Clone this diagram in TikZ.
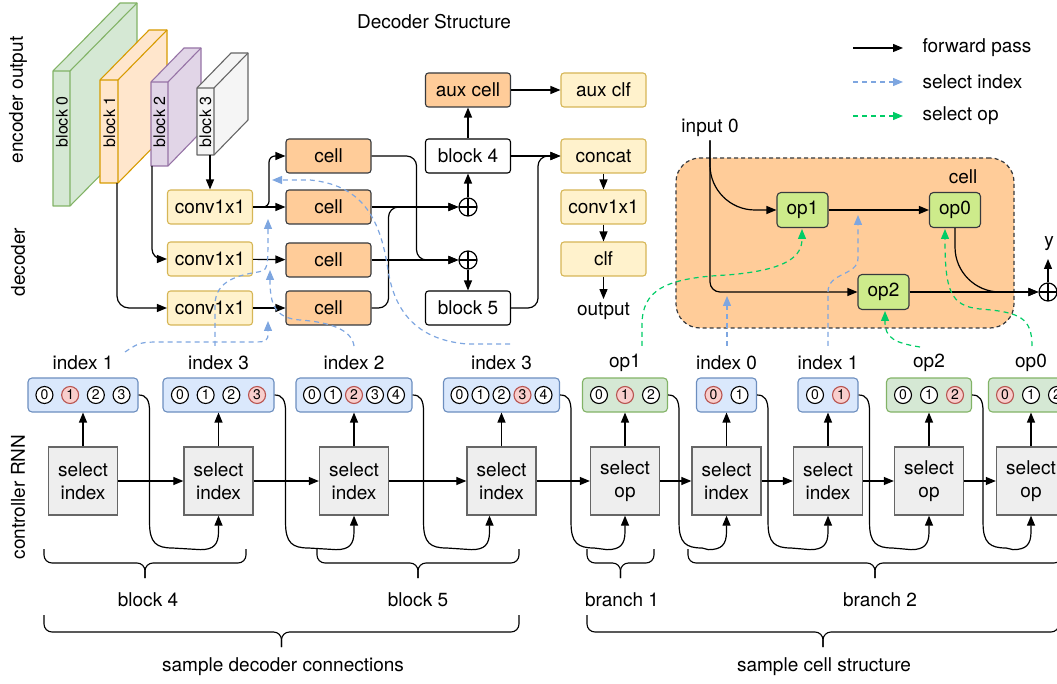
\documentclass[tikz,border=0pt]{standalone}
\usepackage{fontspec}
\setmainfont{TeX Gyre Heros}
\usetikzlibrary{arrows.meta,calc}
\definecolor{ylwF}{HTML}{FFF2CC}
\definecolor{ylwD}{HTML}{D6B656}
\definecolor{orgF}{HTML}{FFCC99}
\definecolor{drk}{HTML}{36393D}
\definecolor{bluF}{HTML}{DAE8FC}
\definecolor{bluD}{HTML}{6C8EBF}
\definecolor{grnF}{HTML}{D5E8D4}
\definecolor{grnD}{HTML}{82B366}
\definecolor{redF}{HTML}{F8CECC}
\definecolor{redD}{HTML}{B85450}
\definecolor{selF}{HTML}{EEEEEE}
\definecolor{selD}{HTML}{666666}
\definecolor{opF}{HTML}{CDEB8B}
\definecolor{blueL}{HTML}{7EA6E0}
\definecolor{greenL}{HTML}{00CC66}
\definecolor{bOneF}{HTML}{FFE6CC}
\definecolor{bOneD}{HTML}{D79B00}
\definecolor{bTwoF}{HTML}{E1D5E7}
\definecolor{bTwoD}{HTML}{9673A6}
\definecolor{bThrF}{HTML}{F5F5F5}

% 3-D slab: front face (x1,y1)-(x2,y2), depth (dx,dy), fill, stroke
\newcommand\slab[8]{%
  \filldraw[fill=#7,draw=#8,line width=1.1pt,line join=round]
    (#1,#2) -- ({#1+#5},{#2-#6}) -- ({#3+#5},{#2-#6}) -- ({#3+#5},{#4-#6})
    -- (#3,#4) -- (#1,#4) -- cycle;
  \draw[draw=#8,line width=1.1pt,line join=round]
    (#1,#2) -- (#3,#2) -- (#3,#4) (#3,#2) -- ({#3+#5},{#2-#6});}

% row of circled choices inside a box, one of them highlighted
\newcommand\digrow[4]{%
  \foreach \k in {0,...,#2}{%
    \pgfmathsetmacro\dgoff{(\k-#2/2)*#3}%
    \ifnum\k=#4\relax
      \node[dsel] (#1-\k) at ($(#1.center)+(\dgoff,0)$) {\k};%
    \else
      \node[dig] (#1-\k) at ($(#1.center)+(\dgoff,0)$) {\k};%
    \fi}}

% recurrent link: from a choice box down and round into the next step
% #1 source box, #2 horizontal offset of the entry point, #3 next step
\newcommand\rnnlink[3]{%
  \draw[fw] (#1.east) .. controls ($(#1.east)+(8,0)$) and ($(#1.east)+(11,5)$)
    .. ($(#1.east)+(11,17)$) -- ($(#1.east)+(11,128)$)
    .. controls ($(#1.east)+(11,148)$) and ($(#1.east)+(18,153)$)
    .. ($(#1.east)+(34,153)$) -- ($(#3.south)+(#2-18,34)$)
    .. controls ($(#3.south)+(#2-5,34)$) and ($(#3.south)+(#2,29)$)
    .. ($(#3.south)+(#2,16)$) -- ($(#3.south)+(#2,0)$);}

% curly brace opening upwards: x1, x2, top, middle, tip
\newcommand\brce[5]{%
  \pgfmathsetmacro\bxm{(#1+#2)/2}%
  \draw[brc] (#1,#3) |- (\bxm,#4) -- (\bxm,#5);
  \draw[brc] (#2,#3) |- (\bxm,#4) -- (\bxm,#5);}

\begin{document}
\begin{tikzpicture}[x=1pt,y=-1pt,
  font=\fontsize{19}{23}\selectfont,
  fw/.style={line width=1.2pt,-{Triangle[length=10pt,width=8pt]}},
  bl/.style={line width=1.2pt,draw=blueL,dash pattern=on 5pt off 4pt,
             -{Triangle[length=10pt,width=8pt]}},
  gr/.style={line width=1.2pt,draw=greenL,dash pattern=on 5pt off 4pt,
             -{Triangle[length=10pt,width=8pt]}},
  bx/.style={draw,rounded corners=3pt,minimum width=85pt,minimum height=34pt,
             inner sep=0pt,line width=1.1pt},
  yb/.style={bx,fill=ylwF,draw=ylwD},
  ob/.style={bx,fill=orgF,draw=drk},
  wb/.style={bx,fill=white,draw=black},
  sb/.style={draw=selD,fill=selF,line width=1.3pt,minimum width=69pt,
             minimum height=68pt,inner sep=0pt,align=center},
  ib/.style={draw=bluD,fill=bluF,rounded corners=4pt,minimum height=34pt,
             line width=1.1pt,inner sep=0pt},
  gb/.style={draw=grnD,fill=grnF,rounded corners=4pt,minimum height=34pt,
             line width=1.1pt,inner sep=0pt,minimum width=85pt},
  dig/.style={circle,draw=black,line width=1.1pt,fill=white,minimum size=17pt,
              inner sep=0pt,font=\fontsize{14}{14}\selectfont},
  dsel/.style={dig,fill=redF,draw=redD},
  opg/.style={draw=drk,fill=opF,rounded corners=4pt,minimum width=51pt,
              minimum height=35pt,inner sep=0pt,line width=1.1pt},
  oplus/.style={circle,draw,line width=1.2pt,minimum size=18pt,inner sep=0pt,
    path picture={\draw[line width=1.2pt]
      (path picture bounding box.north) -- (path picture bounding box.south)
      (path picture bounding box.west) -- (path picture bounding box.east);}},
  brc/.style={line width=1.1pt,rounded corners=8pt},
  vlab/.style={rotate=90}]

\useasboundingbox (0,0) rectangle (1057,684);

% ---------- titles and side labels ----------
\node (title) at (434,22) {Decoder Structure};
\node[vlab] (encl) at (18,100) {encoder output};
\node[vlab] (decl) at (18,262) {decoder};
\node[vlab] (ctrl) at (18,497) {controller RNN};

% ---------- encoder outputs ----------
\slab{53}{71}{70}{206}{67}{68}{grnF}{grnD}
\slab{100}{80}{118}{183}{49}{50}{bOneF}{bOneD}
\slab{151}{82}{168}{166}{33}{34}{bTwoF}{bTwoD}
\slab{197}{88}{214}{155}{34}{35}{bThrF}{selD}
\begin{scope}[font=\fontsize{16}{16}\selectfont]
  \node[vlab] (enc0) at (62,122) {block 0};
  \node[vlab] (enc1) at (109.5,122) {block 1};
  \node[vlab] (enc2) at (159.5,122) {block 2};
  \node[vlab] (enc3) at (205.5,122) {block 3};
\end{scope}
\coordinate (e3o) at (210,155);
\coordinate (e2o) at (152,166);
\coordinate (e1o) at (117,183);

% ---------- decoder ----------
\node[yb] (cv1) at (210,207) {conv1x1};
\node[yb] (cv2) at (210,259) {conv1x1};
\node[yb] (cv3) at (210,308) {conv1x1};
\node[ob] (c1) at (328.5,156) {cell};
\node[ob] (c2) at (328.5,207) {cell};
\node[ob] (c3) at (328.5,260) {cell};
\node[ob] (c4) at (328.5,308) {cell};
\node[oplus] (p1) at (468,207) {};
\node[oplus] (p2) at (468,260) {};
\node[wb] (b4) at (468,156) {block 4};
\node[wb] (b5) at (468,308) {block 5};
\node[ob] (aux) at (468,90) {aux cell};
\node[yb] (auxclf) at (603.5,90) {aux clf};
\node[yb] (concat) at (603.5,156) {concat};
\node[yb] (cv4) at (603.5,207) {conv1x1};
\node[yb] (clf) at (603.5,259) {clf};
\node (out) at (603.5,311) {output};

\draw[fw] (e3o) -- (cv1.north);
\draw[fw,rounded corners=10pt] (e2o) |- (cv2.west);
\draw[fw,rounded corners=12pt] (e1o) |- (cv3.west);
\draw[fw] (cv1) -- (c2);
\draw[fw,rounded corners=6pt] (cv1.east) -- ++(16,0) |- (c1.west);
\draw[fw] (cv2) -- (c3);
\draw[fw] (cv3) -- (c4);
\draw[fw,rounded corners=10pt] (c1.east) -- ++(45,0) |- (p2.west);
\draw[fw] (c2.east) -- (p1.west);
\draw[fw] (c3.east) -- (p2.west);
\draw[fw,rounded corners=10pt] (c4.east) -- ++(17,0) |- (p1.west);
\draw[fw] (p1) -- (b4);
\draw[fw] (p2) -- (b5);
\draw[fw] (b4) -- (aux);
\draw[fw] (aux) -- (auxclf);
\draw[fw] (b4) -- (concat);
\draw[fw,rounded corners=10pt] (b5.east) -- ++(27,0) |- (concat.west);
\draw[fw] (concat) -- (cv4);
\draw[fw] (cv4) -- (clf);
\draw[fw] (clf) -- (out);

% ---------- legend ----------
\coordinate (lgA1) at (853,48);  \coordinate (lgA2) at (903,48);
\coordinate (lgB1) at (853,82);  \coordinate (lgB2) at (903,82);
\coordinate (lgC1) at (853,116); \coordinate (lgC2) at (903,116);
\draw[fw] (lgA1) -- (lgA2);
\draw[bl] (lgB1) -- (lgB2);
\draw[gr] (lgC1) -- (lgC2);
\node[anchor=west] (lgA) at (919,48) {forward pass};
\node[anchor=west] (lgB) at (919,82) {select index};
\node[anchor=west] (lgC) at (919,116) {select op};

% ---------- cell structure ----------
\node[draw=drk,fill=orgF,dash pattern=on 4pt off 3pt,line width=1.2pt,
      rounded corners=24pt,minimum width=338pt,minimum height=170pt]
      (cellarea) at (845,243) {};
\node (celll) at (963,177) {cell};
\node[opg] (o1) at (802.5,210) {op1};
\node[opg] (o0) at (955,210) {op0};
\node[opg] (o2) at (883.5,292) {op2};
\node (in0) at (710,128) {input 0};
\node[oplus] (pc) at (1048,292) {};
\node (yl) at (1049,244) {y};
\coordinate (ytip) at (1048,259);

\draw[fw,rounded corners=45pt] (in0.south) |- (o1.west);
\draw[fw,rounded corners=10pt] (in0.south) |- (o2.west);
\draw[fw] (o1) -- (o0);
\draw[fw] (o2.east) -- (pc.west);
\draw[fw,rounded corners=45pt] (o0.south) |- (pc.west);
\draw[fw] (pc.north) -- (ytip);

% ---------- controller RNN ----------
\node[sb] (s1) at (83,481) {select\\index};
\node[sb] (s2) at (218.5,481) {select\\index};
\node[sb] (s3) at (354,481) {select\\index};
\node[sb] (s4) at (501.5,481) {select\\index};
\node[sb] (s5) at (625,481) {select\\op};
\node[sb] (s6) at (726.5,481) {select\\index};
\node[sb] (s7) at (828,481) {select\\index};
\node[sb] (s8) at (929,481) {select\\op};
\node[sb] (s9) at (1031,481) {select\\op};

\node[ib,minimum width=110pt] (i1) at (83,395) {};
\node[ib,minimum width=111pt] (i2) at (218.5,395) {};
\node[ib,minimum width=116pt] (i3) at (354,395) {};
\node[ib,minimum width=116pt] (i4) at (501.5,395) {};
\node[gb] (i5) at (625,395) {};
\node[ib,minimum width=60pt] (i6) at (726.5,395) {};
\node[ib,minimum width=60pt] (i7) at (828,395) {};
\node[gb] (i8) at (929,395) {};
\node[gb] (i9) at (1031,395) {};

\digrow{i1}{3}{25.7}{1}
\digrow{i2}{3}{25.7}{3}
\digrow{i3}{4}{21}{2}
\digrow{i4}{4}{21}{3}
\digrow{i5}{2}{26}{1}
\digrow{i6}{1}{26}{0}
\digrow{i7}{1}{26}{1}
\digrow{i8}{2}{26}{2}
\digrow{i9}{2}{26}{0}

\node (l1) at (83,363) {index 1};
\node (l2) at (218.5,363) {index 3};
\node (l3) at (354,363) {index 2};
\node (l4) at (501.5,363) {index 3};
\node (l5) at (625,363) {op1};
\node (l6) at (726.5,363) {index 0};
\node (l7) at (828,363) {index 1};
\node (l8) at (929,363) {op2};
\node (l9) at (1031,363) {op0};

\foreach \a in {1,...,9}{\draw[fw] (s\a) -- (i\a);}
\foreach \a/\b in {1/2,2/3,3/4,4/5,5/6,6/7,7/8,8/9}{\draw[fw] (s\a) -- (s\b);}
\foreach \a/\b in {1/2,2/3,4/5,5/6,6/7,7/8,8/9}{\rnnlink{i\a}{0}{s\b}}
\rnnlink{i3}{-12}{s4}

% ---------- sampling links ----------
\coordinate (da1) at (125,352);
\coordinate (ta1) at (268,321);
\draw[bl] (da1) .. controls (140,342) .. (165,342) -- (250,342)
          .. controls (268,342) .. (ta1);
\coordinate (da2) at (215,346);
\coordinate (ta2) at (268,219);
\draw[bl] (da2) -- (215,305) .. controls (215,280) and (240,275) .. (258,272)
          .. controls (268,270) .. (ta2);
\coordinate (da3) at (354,346);
\coordinate (ta3) at (270,270);
\draw[bl] (da3) .. controls (352,330) and (330,322) .. (300,320)
          .. controls (275,318) and (270,305) .. (ta3);
\coordinate (da4) at (510,344);
\coordinate (ta4) at (272,180);
\draw[bl] (da4) -- (467,344) .. controls (420,340) and (395,315) .. (388,270)
          .. controls (380,215) and (360,185) .. (310,180) -- (ta4);
\coordinate (da6) at (727,346);
\coordinate (ta6) at (727,296);
\draw[bl] (da6) -- (ta6);
\coordinate (da7) at (828,346);
\coordinate (ta7) at (858,215);
\draw[bl] (da7) -- (828,292) .. controls (828,272) and (858,276) .. (858,258) -- (ta7);
\coordinate (dg5) at (642,346);
\coordinate (tg5) at (802,229);
\draw[gr] (dg5) -- (642,325) .. controls (642,290) and (665,278) .. (727,275)
          .. controls (790,270) and (802,255) .. (tg5);
\coordinate (dg8) at (920,347);
\coordinate (tg8) at (885,311);
\draw[gr] (dg8) .. controls (895,343) and (885,338) .. (885,322) -- (tg8);
\coordinate (dg9) at (1032,346);
\coordinate (tg9) at (945,229);
\draw[gr] (dg9) .. controls (1032,318) and (1020,312) .. (980,309)
          .. controls (950,306) and (945,290) .. (tg9);

% ---------- grouping braces ----------
\brce{44}{246}{549}{563}{578}
\brce{317}{519}{549}{563}{578}
\brce{587}{654}{549}{563}{578}
\brce{688}{1062}{549}{563}{578}
\brce{44}{519}{615}{632}{647}
\brce{587}{1059}{615}{632}{647}
\node (g1) at (148,600) {block 4};
\node (g2) at (418,600) {block 5};
\node (g3) at (622,600) {branch 1};
\node (g4) at (880,600) {branch 2};
\node (g5) at (283,667) {sample decoder connections};
\node (g6) at (824,667) {sample cell structure};
\end{tikzpicture}
\end{document}
